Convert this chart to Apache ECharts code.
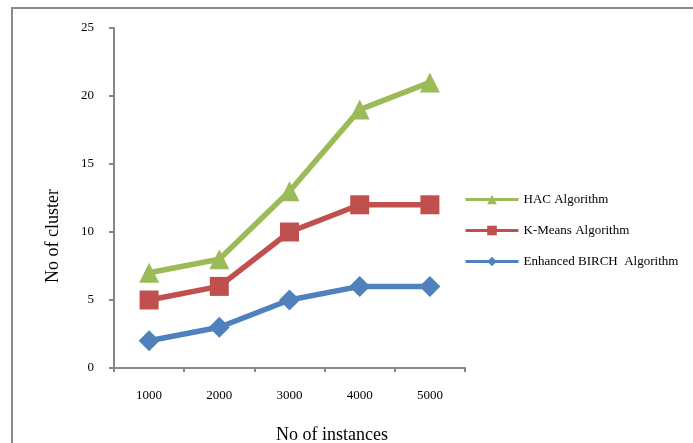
<!DOCTYPE html>
<html>
<head>
<meta charset="utf-8">
<script src="https://cdn.jsdelivr.net/npm/echarts@6/dist/echarts.min.js"></script>
<style>
  html, body { margin: 0; padding: 0; background: #fff; }
  #chart { width: 693px; height: 443px; }
</style>
</head>
<body>
<div id="chart"></div>
<script>
// Cluster counts per dataset size
const instances = ['1000', '2000', '3000', '4000', '5000'];
const hacValues = [7, 8, 13, 19, 21];
const kmeansValues = [5, 6, 10, 12, 12];
const birchValues = [2, 3, 5, 6, 6];

const serif = '"Liberation Serif", "Times New Roman", serif';
const axisGray = '#868686';

const chart = echarts.init(document.getElementById('chart'));

function lineSeries(name, data, color, symbol, size) {
  return {
    name: name,
    type: 'line',
    data: data,
    symbol: symbol,
    symbolSize: size,
    showAllSymbol: true,
    lineStyle: { color: color, width: 5.5 },
    itemStyle: { color: color },
    emphasis: { disabled: true },
    z: 3
  };
}

chart.setOption({
  animation: false,
  backgroundColor: '#fff',
  textStyle: { fontFamily: serif },
  graphic: [{
    type: 'rect',
    shape: { x: 12, y: 8, width: 760, height: 520 },
    style: { fill: 'none', stroke: '#8a8a8a', lineWidth: 2 },
    silent: true,
    z: -1
  }],
  grid: { left: 114, top: 28, right: 228, bottom: 75, containLabel: false, outerBoundsMode: 'none' },
  legend: {
    orient: 'vertical',
    left: 464,
    top: 193,
    padding: 0,
    itemWidth: 53,
    itemHeight: 12,
    itemGap: 18,
    textStyle: { fontFamily: serif, fontSize: 13, color: '#000' },
    data: ['HAC Algorithm', 'K-Means Algorithm', 'Enhanced BIRCH  Algorithm'],
    lineStyle: { width: 3 }
  },
  xAxis: {
    type: 'category',
    data: instances,
    boundaryGap: true,
    name: 'No of instances',
    nameLocation: 'middle',
    nameGap: 58,
    nameTextStyle: { fontFamily: serif, fontSize: 18, color: '#000', padding: [0, 0, 0, 85] },
    axisLine: { lineStyle: { color: axisGray, width: 2 } },
    axisTick: { show: true, alignWithLabel: false, length: 4, inside: false, lineStyle: { color: axisGray, width: 2 } },
    axisLabel: { fontFamily: serif, fontSize: 13, color: '#000', margin: 21 },
    splitLine: { show: false }
  },
  yAxis: {
    type: 'value',
    min: 0,
    max: 25,
    interval: 5,
    name: 'No of cluster',
    nameLocation: 'middle',
    nameGap: 52,
    nameTextStyle: { fontFamily: serif, fontSize: 18, color: '#000', padding: [0, 76, 0, 0] },
    axisLine: { show: true, lineStyle: { color: axisGray, width: 2 } },
    axisTick: { show: true, length: 5, lineStyle: { color: axisGray, width: 2 } },
    axisLabel: { fontFamily: serif, fontSize: 13, color: '#000', margin: 20 },
    splitLine: { show: false }
  },
  series: [
    lineSeries('HAC Algorithm', hacValues, '#9BBB59', 'triangle', 20),
    lineSeries('K-Means Algorithm', kmeansValues, '#C0504D', 'rect', 19),
    lineSeries('Enhanced BIRCH  Algorithm', birchValues, '#4F81BD', 'diamond', 21)
  ]
});
</script>
</body>
</html>
